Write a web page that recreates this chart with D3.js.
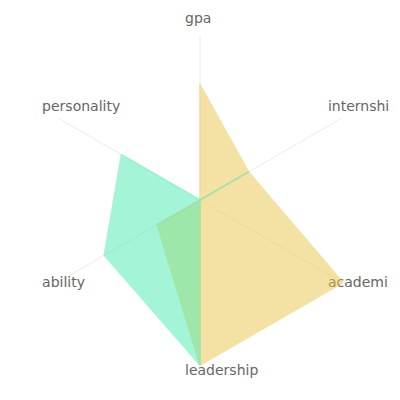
<!DOCTYPE html>
<html>
<head>
<meta charset="utf-8">
<script src="https://cdn.jsdelivr.net/npm/d3@7"></script>
<style>
  html, body { margin: 0; padding: 0; background: #fff; }
  svg { display: block; }
</style>
</head>
<body>
<div id="chart"></div>
<script>
const axes = ["gpa", "internship", "academic", "leadership", "ability", "personality"];
// labels as they appear in the reference (long ones are cut at the right edge)
const axisLabels = ["gpa", "internshi", "academi", "leadership", "ability", "personality"];
const seriesA = [70, 34, 100, 100, 30, 0];
const seriesB = [0, 34, 0, 100, 67, 55];
const colors = ["#ebc54b", "#4bebb1"];

const W = 400, H = 400, cx = 200, cy = 200, R = 165;

const svg = d3.select("#chart").append("svg")
  .attr("width", W).attr("height", H);

const r = d3.scaleLinear().domain([0, 100]).range([0, R]);
const angle = d3.scalePoint().domain(axes).range([0, 2 * Math.PI * (axes.length - 1) / axes.length]);

const g = svg.append("g").attr("transform", `translate(${cx},${cy})`);

// spokes
g.selectAll("line.axis").data(axes).join("line")
  .attr("class", "axis")
  .attr("x1", 0).attr("y1", 0)
  .attr("x2", d => R * Math.sin(angle(d)))
  .attr("y2", d => -R * Math.cos(angle(d)))
  .attr("stroke", "#ececec").attr("stroke-width", 1);

// labels
g.selectAll("text.lab").data(axes).join("text")
  .attr("class", "lab")
  .attr("x", d => R * Math.sin(angle(d)) - 15)
  .attr("y", d => -176 * Math.cos(angle(d)) - 1)
  .attr("text-anchor", "start")
  .attr("font-family", "DejaVu Sans, sans-serif")
  .attr("font-size", 14)
  .attr("fill", "#666")
  .text((d, i) => axisLabels[i]);

// polygons
const line = d3.lineRadial()
  .angle((d, i) => angle(axes[i]))
  .radius(d => r(d))
  .curve(d3.curveLinearClosed);

const data = [seriesA, seriesB];
g.selectAll("path.area").data(data).join("path")
  .attr("class", "area")
  .attr("d", d => line(d))
  .attr("fill", (d, i) => colors[i])
  .attr("stroke", (d, i) => colors[i])
  .attr("stroke-width", 1.5)
  .attr("stroke-linejoin", "round")
  .attr("opacity", 0.5);
</script>
</body>
</html>
